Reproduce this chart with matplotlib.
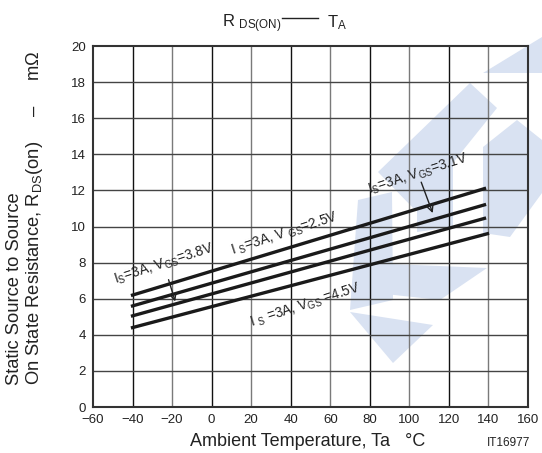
import matplotlib
matplotlib.use("Agg")
import matplotlib.pyplot as plt
from matplotlib.patches import Polygon
from matplotlib.lines import Line2D

# ========= 資料 =========
temp_ta = [-40, 138]
rds_vgs25 = [6.2, 12.1]
rds_vgs31 = [5.6, 11.2]
rds_vgs38 = [5.05, 10.45]
temp_vgs45 = [-40, 139.5]
rds_vgs45 = [4.4, 9.6]

x_ticks = list(range(-60, 161, 20))
x_tick_labels = ["\u221260", "\u221240", "\u221220", "0", "20", "40", "60", "80", "100", "120", "140", "160"]
y_ticks = list(range(0, 21, 2))

# watermark (figure pixels, y down)
WATERMARK = [
    [(483, 73), (542, 37), (542, 73)],
    [(378, 172), (470, 83), (497, 108), (415, 210)],
    [(358, 200), (392, 192), (393, 300), (350, 310)],
    [(350, 312), (433, 325), (393, 363)],
    [(367, 263), (487, 268), (440, 300), (367, 292)],
    [(483, 147), (517, 120), (542, 140), (542, 193), (510, 237), (483, 233)],
    [(417, 152), (453, 140), (453, 227), (417, 232)],
]

W, H = 542, 453
TXT = "#222222"

plt.rcParams["font.family"] = ["Liberation Sans", "DejaVu Sans"]
plt.rcParams["mathtext.fontset"] = "custom"
plt.rcParams["mathtext.rm"] = "Liberation Sans"
plt.rcParams["mathtext.it"] = "Liberation Sans"
plt.rcParams["mathtext.sf"] = "Liberation Sans"
plt.rcParams["mathtext.default"] = "regular"

fig = plt.figure(figsize=(W / 100, H / 100), dpi=100)
fig.patch.set_facecolor("white")
ax = fig.add_axes([93 / W, 1 - 407 / H, (528 - 93) / W, (407 - 46) / H])
ax.set_facecolor("none")

for poly in WATERMARK:
    pts = [(px / W, 1 - py / H) for px, py in poly]
    ax.add_patch(Polygon(pts, closed=True, transform=fig.transFigure,
                         facecolor="#d9e2f2", edgecolor="none", zorder=0.5, clip_on=False))

# 格線
for i, xv in enumerate(x_ticks[1:-1]):
    ax.axvline(xv, color="#111111" if i % 2 == 0 else "#7a7a7a", lw=1.0, zorder=1)
for yv in y_ticks[1:-1]:
    ax.axhline(yv, color="#444444", lw=1.0, zorder=1)

lw = 2.4
ax.plot(temp_ta, rds_vgs25, color="#1a1a1a", lw=lw, zorder=3)
ax.plot(temp_ta, rds_vgs31, color="#1a1a1a", lw=lw, zorder=3)
ax.plot(temp_ta, rds_vgs38, color="#1a1a1a", lw=lw, zorder=3)
ax.plot(temp_vgs45, rds_vgs45, color="#1a1a1a", lw=lw, zorder=3)

ax.set_xlim(-60, 160)
ax.set_ylim(0, 20)
ax.set_xticks(x_ticks)
ax.set_xticklabels(x_tick_labels)
ax.set_yticks(y_ticks)
ax.tick_params(length=0, labelsize=9.5, colors=TXT)
ax.tick_params(axis="x", pad=5)
ax.tick_params(axis="y", pad=5)
for sp in ax.spines.values():
    sp.set_color("#333333")
    sp.set_linewidth(1.5)

# 標註
tkw = dict(fontsize=9.8, color=TXT, rotation=18, ha="center", va="center", zorder=4)
ax.text(-24, 7.9, r"I$_S$=3A, V$_{GS}$=3.8V", **tkw)
ax.text(37, 9.6, r"I $_S$=3A, V $_{GS}$=2.5V", **tkw)
ax.text(104.5, 12.9, r"I$_S$=3A, V$_{GS}$=3.1V", **tkw)
ax.text(47.5, 5.65, r"I $_S$ =3A, V$_{GS}$ =4.5V", **tkw)
akw = dict(arrowstyle="->", color=TXT, lw=1.0, mutation_scale=12)
ax.annotate("", xy=(-18, 5.7), xytext=(-22.2, 7.2), arrowprops=akw, zorder=4)
ax.annotate("", xy=(112.3, 10.6), xytext=(105.5, 12.6), arrowprops=akw, zorder=4)

# 標題 R DS(ON) —— T A
ty = 1 - 27.5 / H
fig.text(281 / W, ty, r"R $_{DS(ON)}$", ha="right", va="baseline", fontsize=12, color=TXT)
fig.add_artist(Line2D([282 / W, 318 / W], [1 - 18 / H, 1 - 18 / H], color=TXT, lw=1.0,
                      transform=fig.transFigure))
fig.text(327 / W, ty, r"T$_A$", ha="left", va="baseline", fontsize=12, color=TXT)

fig.text(190 / W, 1 - 442 / H, "Ambient Temperature, Ta   \u00b0C", ha="left", va="center",
         fontsize=13, color=TXT)
fig.text(530 / W, 1 - 443 / H, "IT16977", ha="right", va="center", fontsize=8.5, color=TXT)
fig.text(25.5 / W, 1 - 385 / H,
         "Static Source to Source\nOn State Resistance, R$_{DS}$(on)" + " " * 5 + "\u2013" + " " * 5 + "m\u03a9",
         rotation=90, ha="center", va="bottom", multialignment="left",
         fontsize=13.2, color=TXT, linespacing=1.1)

fig.savefig("out.png", dpi=100)
